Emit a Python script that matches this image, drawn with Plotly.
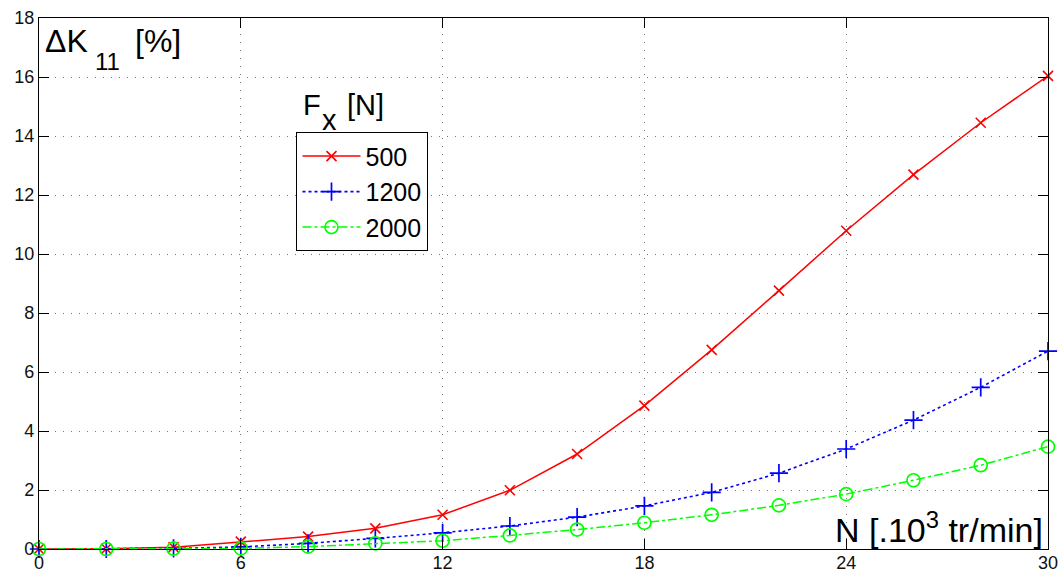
import plotly.graph_objects as go

# Rotation speed N [10^3 tr/min]
speed = [0, 2, 4, 6, 8, 10, 12, 14, 16, 18, 20, 22, 24, 26, 28, 30]

# Relative stiffness variation dK11 [%] for each axial force Fx
dk_500 = [0, 0.01, 0.06, 0.25, 0.42, 0.70, 1.16, 1.99, 3.22, 4.86, 6.75, 8.76, 10.79, 12.69, 14.45, 16.04]
dk_1200 = [0, 0, 0.02, 0.07, 0.19, 0.36, 0.55, 0.78, 1.08, 1.46, 1.92, 2.57, 3.39, 4.37, 5.48, 6.71]
dk_2000 = [0, 0, 0.01, 0.02, 0.08, 0.19, 0.28, 0.46, 0.66, 0.89, 1.16, 1.48, 1.86, 2.33, 2.84, 3.47]

x_ticks = [0, 6, 12, 18, 24, 30]
y_ticks = [0, 2, 4, 6, 8, 10, 12, 14, 16, 18]

FONT = "Arial, Liberation Sans, sans-serif"

fig = go.Figure()
fig.add_trace(go.Scatter(
    x=speed, y=dk_500, name="500", mode="lines+markers", cliponaxis=False,
    line=dict(color="#ff0000", width=1.5, dash="solid"),
    marker=dict(symbol="x-thin", size=10, line=dict(color="#ff0000", width=1.6)),
))
fig.add_trace(go.Scatter(
    x=speed, y=dk_1200, name="1200", mode="lines+markers", cliponaxis=False,
    line=dict(color="#0000ff", width=1.6, dash="dot"),
    marker=dict(symbol="cross-thin", size=13, line=dict(color="#0000ff", width=1.7)),
))
fig.add_trace(go.Scatter(
    x=speed, y=dk_2000, name="2000", mode="lines+markers", cliponaxis=False,
    line=dict(color="#00ff00", width=1.5, dash="dashdot"),
    marker=dict(symbol="circle-open", size=13, color="#00ff00", line=dict(color="#00ff00", width=1.7)),
))

axis_common = dict(
    showline=True, linecolor="black", linewidth=1.2, mirror="ticks",
    ticks="inside", ticklen=10, tickwidth=1, tickcolor="black",
    showgrid=True, gridcolor="#777777", gridwidth=1, griddash="1px,7px",
    zeroline=False, automargin=False,
    tickfont=dict(family=FONT, size=18, color="#111111"),
)

fig.update_xaxes(range=[0, 30], tickvals=x_ticks, ticktext=[str(v) for v in x_ticks],
                 ticklabelstandoff=-3, **axis_common)
fig.update_yaxes(range=[0, 18], tickvals=y_ticks, ticktext=[str(v) for v in y_ticks], **axis_common)


def label(text, x, y, size, xanchor="left", yanchor="top"):
    fig.add_annotation(
        text=text, xref="paper", yref="paper", x=x, y=y,
        xanchor=xanchor, yanchor=yanchor, showarrow=False,
        font=dict(family=FONT, size=size, color="black"),
    )


# Axis titles written inside the plot area, MATLAB-style
label("ΔK", 0.004, 0.995, 32)
label("11", 0.054, 0.948, 24)
label("[%]", 0.093, 0.995, 32)

label("F", 0.26, 0.87, 29)
label("x", 0.278, 0.842, 29)
label("[N]", 0.303, 0.87, 29)

label("N [.10<sup>3</sup> tr/min]", 0.997, -0.004, 34, xanchor="right", yanchor="bottom")

fig.update_layout(
    width=1062, height=575,
    margin=dict(l=39, r=14, t=18, b=26),
    paper_bgcolor="white", plot_bgcolor="white",
    showlegend=True,
    legend=dict(
        x=0.255, y=0.785, xanchor="left", yanchor="top",
        bgcolor="white", bordercolor="black", borderwidth=1.2,
        font=dict(family=FONT, size=25, color="black"),
        itemwidth=58, tracegroupgap=0,
    ),
)

fig.write_html("out.html")
